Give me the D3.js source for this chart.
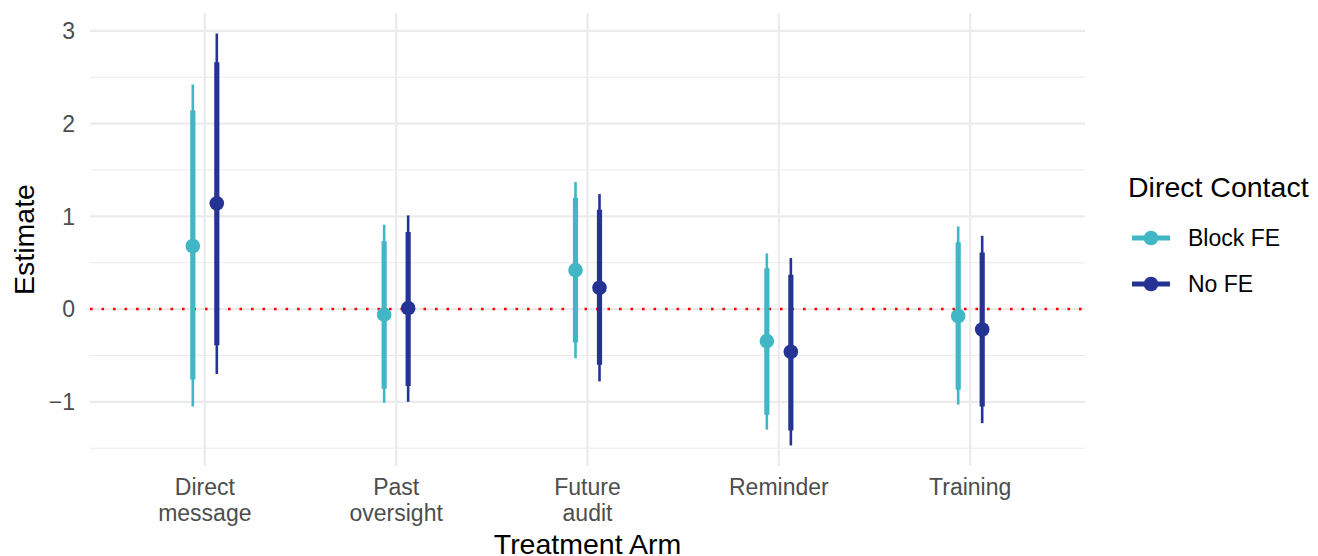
<!DOCTYPE html>
<html><head><meta charset="utf-8">
<script src="https://cdn.jsdelivr.net/npm/d3@7"></script>
<style>body{margin:0;background:#fff}svg{display:block;font-family:"Liberation Sans",Arial,sans-serif}</style>
</head><body><svg id="c" width="1318" height="556"></svg>
<script>
const categories = ["Direct\nmessage","Past\noversight","Future\naudit","Reminder","Training"];
const seriesNames = ["Block FE","No FE"];
const seriesColors = ["#41B6C4","#253494"];
// estimates per series, per category
const estBlock   = [0.68, -0.06, 0.42, -0.345, -0.075];
const estNoFE    = [1.14,  0.01, 0.23, -0.46,  -0.22];
// inner (thick) interval
const loInBlock  = [-0.76, -0.86, -0.36, -1.14, -0.87];
const hiInBlock  = [2.14,  0.73,  1.20,  0.44,  0.72];
const loInNoFE   = [-0.39, -0.83, -0.60, -1.31, -1.05];
const hiInNoFE   = [2.66,  0.83,  1.07,  0.37,  0.61];
// outer (thin) interval
const loOutBlock = [-1.05, -1.01, -0.53, -1.30, -1.03];
const hiOutBlock = [2.42,  0.91,  1.37,  0.60,  0.89];
const loOutNoFE  = [-0.70, -1.00, -0.78, -1.47, -1.23];
const hiOutNoFE  = [2.97,  1.01,  1.24,  0.55,  0.79];
const yTicks = [-1, 0, 1, 2, 3];
const yMinor = [-1.5, -0.5, 0.5, 1.5, 2.5];

const rows = [];
categories.forEach((c, i) => {
  rows.push({cat:c, s:0, est:estBlock[i], loIn:loInBlock[i], hiIn:hiInBlock[i], loOut:loOutBlock[i], hiOut:hiOutBlock[i]});
  rows.push({cat:c, s:1, est:estNoFE[i], loIn:loInNoFE[i], hiIn:hiInNoFE[i], loOut:loOutNoFE[i], hiOut:hiOutNoFE[i]});
});

const svg = d3.select("#c");
const L = 90, R = 1085, T = 13, B = 466;
const allV = rows.flatMap(r => [r.loOut, r.hiOut]);
const ymin = d3.min(allV), ymax = d3.max(allV), pad = (ymax - ymin) * 0.05;
const y = d3.scaleLinear().domain([ymin - pad, ymax + pad]).range([B, T]);
const x = d3.scalePoint().domain(categories).range([L, R]).padding(0.6);
const dodge = 12;
const xs = r => x(r.cat) + (r.s === 0 ? -dodge : dodge);

const g = svg.append("g");
// grid
g.selectAll(".ymin").data(yMinor).join("line")
  .attr("x1", L).attr("x2", R).attr("y1", d => y(d)).attr("y2", d => y(d))
  .attr("stroke", "#EBEBEB").attr("stroke-width", 1.1);
g.selectAll(".ymaj").data(yTicks).join("line")
  .attr("x1", L).attr("x2", R).attr("y1", d => y(d)).attr("y2", d => y(d))
  .attr("stroke", "#EBEBEB").attr("stroke-width", 2.2);
g.selectAll(".xmaj").data(categories).join("line")
  .attr("x1", d => x(d)).attr("x2", d => x(d)).attr("y1", T).attr("y2", B)
  .attr("stroke", "#EBEBEB").attr("stroke-width", 2.2);

// zero line
g.append("line").attr("x1", L).attr("x2", R).attr("y1", y(0)).attr("y2", y(0))
  .attr("stroke", "#FF0000").attr("stroke-width", 2.4).attr("stroke-dasharray", "2.6,8.9");

// thin intervals
g.selectAll(".out").data(rows).join("line")
  .attr("x1", xs).attr("x2", xs).attr("y1", d => y(d.loOut)).attr("y2", d => y(d.hiOut))
  .attr("stroke", d => seriesColors[d.s]).attr("stroke-width", 2.6);
// thick intervals
g.selectAll(".in").data(rows).join("line")
  .attr("x1", xs).attr("x2", xs).attr("y1", d => y(d.loIn)).attr("y2", d => y(d.hiIn))
  .attr("stroke", d => seriesColors[d.s]).attr("stroke-width", 5.2);
// points
g.selectAll(".pt").data(rows).join("circle")
  .attr("cx", xs).attr("cy", d => y(d.est)).attr("r", 7.3)
  .attr("fill", d => seriesColors[d.s]);

// y axis labels
g.selectAll(".yl").data(yTicks).join("text")
  .attr("x", 75).attr("y", d => y(d)).attr("dy", "0.36em").attr("text-anchor", "end")
  .attr("fill", "#4D4D4D").attr("font-size", 23)
  .text(d => d < 0 ? "\u2212" + Math.abs(d) : d);

// x axis labels
categories.forEach(c => {
  const lines = c.split("\n");
  const t = g.append("text").attr("text-anchor", "middle").attr("fill", "#4D4D4D").attr("font-size", 23);
  lines.forEach((ln, k) => {
    t.append("tspan").attr("x", x(c)).attr("y", 495 + k * 26).text(ln);
  });
});

// axis titles
g.append("text").attr("x", (L + R) / 2).attr("y", 554).attr("text-anchor", "middle")
  .attr("font-size", 28.5).attr("fill", "#000").text("Treatment Arm");
g.append("text").attr("transform", `translate(34,${(T + B) / 2}) rotate(-90)`)
  .attr("text-anchor", "middle").attr("font-size", 28.5).attr("fill", "#000").text("Estimate");

// legend
const lg = svg.append("g");
lg.append("text").attr("x", 1128).attr("y", 197).attr("font-size", 28.5).attr("fill", "#000").text("Direct Contact");
seriesNames.forEach((n, i) => {
  const cy = 238 + i * 46;
  lg.append("line").attr("x1", 1132).attr("x2", 1170).attr("y1", cy).attr("y2", cy)
    .attr("stroke", seriesColors[i]).attr("stroke-width", 5.2);
  lg.append("circle").attr("cx", 1151).attr("cy", cy).attr("r", 7.3).attr("fill", seriesColors[i]);
  lg.append("text").attr("x", 1188).attr("y", cy).attr("dy", "0.36em").attr("font-size", 23).attr("fill", "#000").text(n);
});
</script></body></html>
